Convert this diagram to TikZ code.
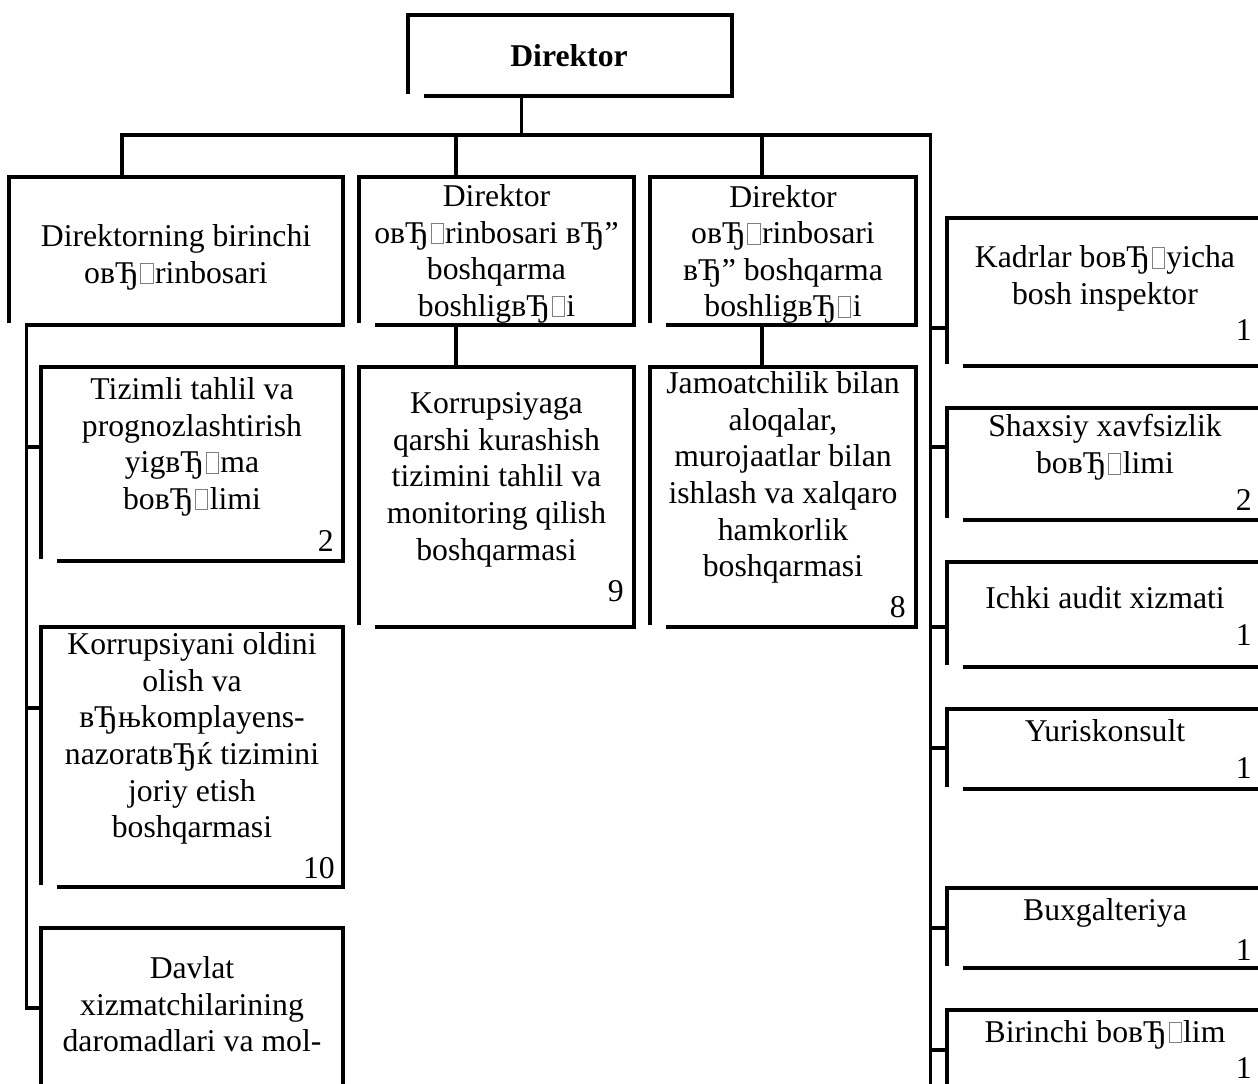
\documentclass[tikz,border=0pt]{standalone}
\usepackage{fontspec}
\setmainfont{Liberation Serif}
\newcommand\nd{\kern0.05em{\color{black!50}\setlength\fboxsep{0pt}\setlength\fboxrule{0.8pt}\fbox{\rule{0pt}{0.62em}\hspace{0.36em}}}\kern0.05em}
\begin{document}
\begin{tikzpicture}[x=1pt,y=-1pt,
  ln/.style={line width=3.3pt},
  bx/.style={anchor=north west, inner sep=0pt, outer sep=0pt},
  txt/.style={font=\fontsize{31.7}{36.6}\selectfont, align=center, inner sep=0pt, anchor=north, execute at begin node={\rule{0pt}{25.55pt}}},
  num/.style={font=\fontsize{31.7}{36.6}\selectfont, inner sep=0pt, anchor=base east}]
\useasboundingbox (0,0) rectangle (1258,1084);
\fill[white] (0,0) rectangle (1258,1084);
\clip (0,0) rectangle (1258,1084);
% boxes
\node[bx, minimum width=324pt, minimum height=81pt] (dir) at (408,15) {};
\node[bx, minimum width=334pt, minimum height=148pt] (b1) at (9,177) {};
\node[bx, minimum width=275pt, minimum height=148pt] (b2) at (359,177) {};
\node[bx, minimum width=266pt, minimum height=148pt] (b3) at (650,177) {};
\node[bx, minimum width=302pt, minimum height=194pt] (tz) at (41,367) {};
\node[bx, minimum width=275pt, minimum height=260pt] (kq) at (359,367) {};
\node[bx, minimum width=266pt, minimum height=260pt] (jm) at (650,367) {};
\node[bx, minimum width=302pt, minimum height=260pt] (kn) at (41,627) {};
\node[bx, minimum width=302pt, minimum height=190pt] (dv) at (41,928) {};
\node[bx, minimum width=316pt, minimum height=148pt] (kd) at (947,218) {};
\node[bx, minimum width=316pt, minimum height=112pt] (sx) at (947,408) {};
\node[bx, minimum width=316pt, minimum height=105pt] (ic) at (947,562) {};
\node[bx, minimum width=316pt, minimum height=80pt] (yu) at (947,709) {};
\node[bx, minimum width=316pt, minimum height=80pt] (bu) at (947,888) {};
\node[bx, minimum width=316pt, minimum height=100pt] (bi) at (947,1010) {};
\foreach \n in {dir,b1,b2,b3,tz,kq,jm,kn,dv,kd,sx,ic,yu,bu,bi}
  \draw[ln] ([yshift=1.6pt]\n.south west) |- (\n.north east) |- ([xshift=16pt]\n.south west);
% texts
\node[txt, font=\fontsize{31.7}{36.6}\selectfont\bfseries] (tdir) at ([xshift=-1pt,yshift=-25.45pt]dir.north) {Direktor};
\node[txt] (t1) at ([yshift=-47.45pt]b1.north) {Direktorning birinchi\\oвЂ\nd{}rinbosari};
\node[txt] (t2) at ([yshift=-7.45pt]b2.north) {Direktor\\oвЂ\nd{}rinbosari вЂ”\\boshqarma\\boshligвЂ\nd{}i};
\node[txt] (t3) at ([yshift=-7.95pt]b3.north) {Direktor\\oвЂ\nd{}rinbosari\\вЂ” boshqarma\\boshligвЂ\nd{}i};
\node[txt] (ttz) at ([yshift=-10.45pt]tz.north) {Tizimli tahlil va\\prognozlashtirish\\yigвЂ\nd{}ma\\boвЂ\nd{}limi};
\node[txt] (tkq) at ([yshift=-25.45pt]kq.north) {Korrupsiyaga\\qarshi kurashish\\tizimini tahlil va\\monitoring qilish\\boshqarmasi};
\node[txt] (tjm) at ([yshift=-4.45pt]jm.north) {Jamoatchilik bilan\\aloqalar,\\murojaatlar bilan\\ishlash va xalqaro\\hamkorlik\\boshqarmasi};
\node[txt] (tkn) at ([yshift=-5.45pt]kn.north) {Korrupsiyani oldini\\olish va\\вЂњkomplayens-\\nazoratвЂќ tizimini\\joriy etish\\boshqarmasi};
\node[txt] (tdv) at ([yshift=-28.45pt]dv.north) {Davlat\\xizmatchilarining\\daromadlari va mol-};
\node[txt] (tkd) at ([yshift=-27.45pt]kd.north) {Kadrlar boвЂ\nd{}yicha\\bosh inspektor};
\node[txt] (tsx) at ([yshift=-6.45pt]sx.north) {Shaxsiy xavfsizlik\\boвЂ\nd{}limi};
\node[txt] (tic) at ([yshift=-20.45pt]ic.north) {Ichki audit xizmati};
\node[txt] (tyu) at ([yshift=-6.45pt]yu.north) {Yuriskonsult};
\node[txt] (tbu) at ([yshift=-6.95pt]bu.north) {Buxgalteriya};
\node[txt] (tbi) at ([yshift=-6.45pt]bi.north) {Birinchi boвЂ\nd{}lim};
% numbers
\node[num] (ntz) at ([xshift=-9pt,yshift=10pt]tz.south east) {2};
\node[num] (nkq) at ([xshift=-10pt,yshift=26pt]kq.south east) {9};
\node[num] (njm) at ([xshift=-10pt,yshift=10pt]jm.south east) {8};
\node[num] (nkn) at ([xshift=-8pt,yshift=9pt]kn.south east) {10};
\node[num] (nkd) at ([xshift=-11pt,yshift=26pt]kd.south east) {1};
\node[num] (nsx) at ([xshift=-11pt,yshift=10pt]sx.south east) {2};
\node[num] (nic) at ([xshift=-11pt,yshift=22pt]ic.south east) {1};
\node[num] (nyu) at ([xshift=-11pt,yshift=11pt]yu.south east) {1};
\node[num] (nbu) at ([xshift=-11pt,yshift=8pt]bu.south east) {1};
\node[num] (nbi) at ([xshift=-11pt,yshift=32pt]bi.south east) {1};
% connectors
\coordinate (jd) at (521.5,135);
\coordinate (j1) at (122,135);
\coordinate (j2) at (456,135);
\coordinate (j3) at (762,135);
\coordinate (jr) at (930.5,135);
\coordinate (rend) at (930.5,1100);
\coordinate (lb) at (26.5,1008);
\draw[ln] (dir.south -| jd) -- (jd);
\draw[ln] (j1 |- b1.north) -- (j1) -- (jr) -- (rend);
\draw[ln] (j2) -- (j2 |- b2.north);
\draw[ln] (j3) -- (j3 |- b3.north);
\draw[ln] (b2.south -| j2) -- (j2 |- kq.north);
\draw[ln] (b3.south -| j3) -- (j3 |- jm.north);
\draw[ln] (b1.south -| lb) -- (lb) -- (lb -| dv.west);
\coordinate (ltz) at (26.5,447);
\coordinate (lkn) at (26.5,708);
\draw[ln] (ltz) -- (ltz -| tz.west);
\draw[ln] (lkn) -- (lkn -| kn.west);
\foreach \n/\yy in {kd/328, sx/447, ic/627, yu/748, bu/928, bi/1050}
  \draw[ln] (930.5,\yy) -- (\n.west |- 0,\yy);
\end{tikzpicture}
\end{document}
